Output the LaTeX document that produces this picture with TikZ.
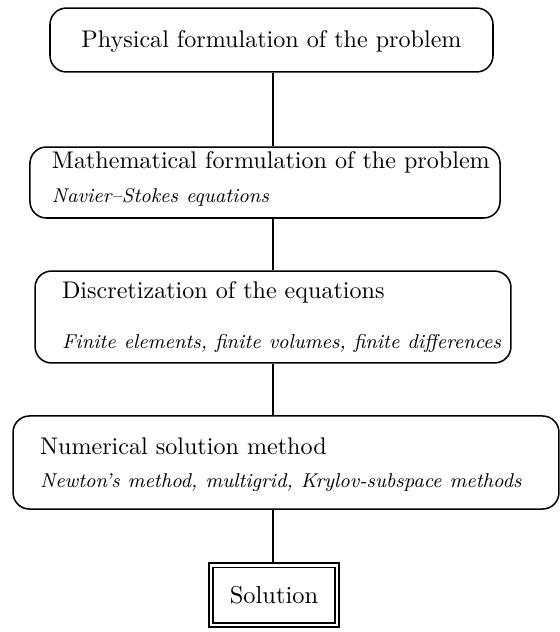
\documentclass[tikz,border=0pt]{standalone}
\usepackage{tikz}
\usetikzlibrary{calc}

\begin{document}
\begin{tikzpicture}[x=0.4255pt, y=-0.4255pt,
    stage/.style={draw, line width=0.65pt, rounded corners=7pt, inner ysep=0pt, align=left,
        font=\fontsize{10.25}{12.5}\selectfont},
    link/.style={line width=0.85pt}]
    \newcommand{\subline}[1]{\mbox{\fontsize{8.5}{10}\selectfont\itshape #1}}
    \useasboundingbox (0,0) rectangle (560,632);
    % Axis of the chain
    \coordinate (spine) at (273,0);

    % Stages
    \node[stage, align=center, minimum width=188.5pt, text height=16.6pt, text depth=10.6pt] (phys) at (271.5,40)
        {Physical formulation of the problem};
    \node[stage, text width=181.3pt, inner xsep=9.36pt, text height=9pt, text depth=21.2pt] (math) at (265,182.5)
        {\mbox{Mathematical formulation of the problem}\\[1.9pt]
         \subline{Navier--Stokes equations}};
    \node[stage, text width=179.5pt, inner xsep=11.5pt, text height=11.5pt, text depth=27.6pt] (disc) at (273,317)
        {\mbox{Discretization of the equations}\\[8.8pt]
         \subline{Finite elements, finite volumes, finite differences}};
    \node[stage, text width=209.3pt, inner xsep=11.5pt, text height=16.6pt, text depth=23pt] (numer) at (286,462.5)
        {\mbox{Numerical solution method}\\[1.5pt]
         \subline{Newton's method, multigrid, Krylov-subspace methods}};
    \node[draw, line width=0.8pt, minimum width=55.3pt, minimum height=27.2pt,
        font=\fontsize{10.4}{12.5}\selectfont] (sol) at (274,595) {Solution};
    \draw[line width=0.45pt] ($(sol.north west)+(2.1pt,-2.1pt)$) rectangle ($(sol.south east)+(-2.1pt,2.1pt)$);

    % Links
    \draw[link] (phys.south -| spine) -- (math.north -| spine);
    \draw[link] (math.south -| spine) -- (disc.north -| spine);
    \draw[link] (disc.south -| spine) -- (numer.north -| spine);
    \draw[link] (numer.south -| spine) -- (sol.north -| spine);
\end{tikzpicture}
\end{document}
